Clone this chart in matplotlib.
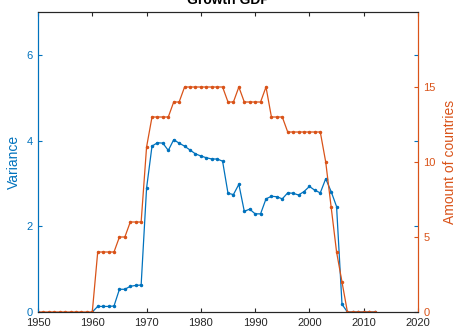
import matplotlib
matplotlib.use("Agg")
import matplotlib.pyplot as plt
import numpy as np

plt.rcParams['font.family'] = ['Liberation Sans', 'DejaVu Sans']

# Data
years_var = list(range(1960, 2013))
variance = [0.0, 0.13, 0.13, 0.13, 0.14, 0.53, 0.53, 0.60, 0.62, 0.63,
            2.89, 3.87, 3.95, 3.94, 3.77, 4.02, 3.94, 3.87, 3.78, 3.69,
            3.64, 3.60, 3.57, 3.57, 3.52, 2.77, 2.74, 2.98, 2.35, 2.40,
            2.29, 2.29, 2.64, 2.70, 2.69, 2.64, 2.78, 2.77, 2.73, 2.81,
            2.93, 2.84, 2.78, 3.11, 2.81, 2.46, 0.18, 0.0, 0.0, 0.0,
            0.0, 0.0, 0.0]
years_cnt = list(range(1950, 2013))
countries = [0]*11 + [4, 4, 4, 4, 5, 5, 6, 6, 6,
             11, 13, 13, 13, 13, 14, 14, 15, 15, 15,
             15, 15, 15, 15, 15, 14, 14, 15, 14, 14,
             14, 14, 15, 13, 13, 13, 12, 12, 12, 12,
             12, 12, 12, 10, 7, 4, 2, 0, 0, 0,
             0, 0, 0]

title = "Growth GDP"
left_label = "Variance"
right_label = "Amount of countries"
xticks = [1950, 1960, 1970, 1980, 1990, 2000, 2010, 2020]
lticks = [0, 2, 4, 6]
rticks = [0, 5, 10, 15]

blue = "#0072BD"
orange = "#D95319"
dark = "#262626"

fig = plt.figure(figsize=(4.56, 3.33), dpi=100)
ax1 = fig.add_axes([38/456, 1-312/333, (418-38)/456, (312-12)/333])
ax2 = ax1.twinx()

ax1.plot(years_var, variance, color=blue, marker='.', markersize=3, linewidth=0.9)
ax2.plot(years_cnt, countries, color=orange, marker='.', markersize=3, linewidth=0.9)

ax1.set_xlim(1950, 2020)
ax1.set_ylim(0, 7)
ax2.set_ylim(0, 20)
ax1.set_xticks(xticks)
ax1.set_yticks(lticks)
ax2.set_yticks(rticks)

ax1.tick_params(axis='x', direction='in', length=3, colors=dark, labelsize=8, top=True, pad=4)
ax1.tick_params(axis='y', direction='in', length=3, colors=blue, labelcolor=blue, labelsize=8, right=True, pad=4)
ax2.tick_params(axis='y', direction='in', length=3, colors=orange, labelcolor=orange, labelsize=8, pad=4)

for ax in (ax1, ax2):
    ax.spines['top'].set_color(dark)
    ax.spines['bottom'].set_color(dark)
    ax.spines['left'].set_color(blue)
    ax.spines['right'].set_color(orange)
    for s in ax.spines.values():
        s.set_linewidth(0.8)

ax1.set_ylabel(left_label, color=blue, fontsize=10, labelpad=4)
ax2.set_ylabel(right_label, color=orange, fontsize=10, labelpad=5)

fig.text(0.5, 1 - 4/333, title, ha='center', va='baseline', fontsize=10, fontweight='bold', color='black')

fig.savefig("out.png", dpi=100)
